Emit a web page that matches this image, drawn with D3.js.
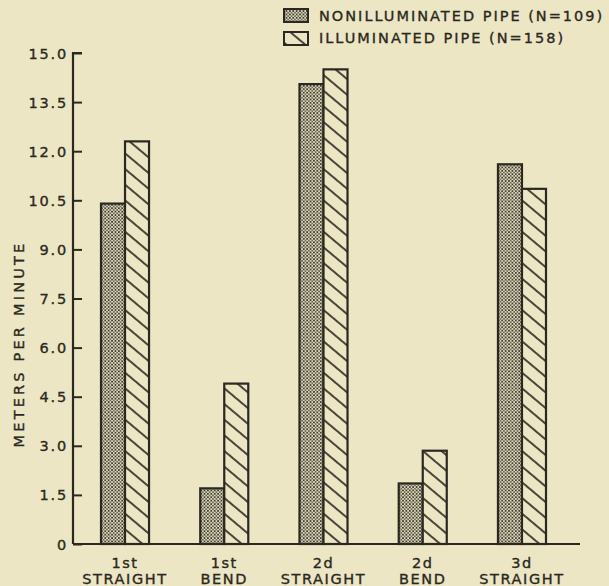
<!DOCTYPE html>
<html>
<head>
<meta charset="utf-8">
<script src="https://cdn.jsdelivr.net/npm/d3@7"></script>
<style>
  html, body { margin: 0; padding: 0; background: #ece6c5; }
  svg { display: block; }
  text { font-family: "DejaVu Sans", sans-serif; fill: #2a2820; stroke: #2a2820; stroke-width: 0.35; }
</style>
</head>
<body>
<svg id="chart" width="609" height="586"></svg>
<script>
// Data
const categories = ["1st STRAIGHT", "1st BEND", "2d STRAIGHT", "2d BEND", "3d STRAIGHT"];
const labelTop = ["1st", "1st", "2d", "2d", "3d"];
const labelBottom = ["STRAIGHT", "BEND", "STRAIGHT", "BEND", "STRAIGHT"];
const seriesNames = ["NONILLUMINATED PIPE (N=109)", "ILLUMINATED PIPE (N=158)"];
const nonIlluminated = [10.4, 1.7, 14.05, 1.85, 11.6];
const illuminated = [12.3, 4.9, 14.5, 2.85, 10.85];
const yTicks = [0, 1.5, 3, 4.5, 6, 7.5, 9, 10.5, 12, 13.5, 15];

const ink = '#2a2820';
const svg = d3.select('#chart');

// Patterns
const defs = svg.append('defs');
const dots = defs.append('pattern')
    .attr('id', 'stipple')
    .attr('patternUnits', 'userSpaceOnUse')
    .attr('width', 3.4).attr('height', 3.4);
dots.append('rect').attr('width', 3.4).attr('height', 3.4).attr('fill', '#ddd7b9');
dots.append('rect').attr('x', 0).attr('y', 0).attr('width', 1.7).attr('height', 1.7).attr('fill', '#3e3b31');
dots.append('rect').attr('x', 1.7).attr('y', 1.7).attr('width', 1.7).attr('height', 1.7).attr('fill', '#6e6a5a');

const hatch = defs.append('pattern')
    .attr('id', 'hatch')
    .attr('patternUnits', 'userSpaceOnUse')
    .attr('width', 12).attr('height', 12)
    .attr('patternTransform', 'rotate(40)');
hatch.append('rect').attr('width', 12).attr('height', 12).attr('fill', '#ece6c5');
hatch.append('line')
    .attr('x1', 0).attr('y1', 6).attr('x2', 12).attr('y2', 6)
    .attr('stroke', ink).attr('stroke-width', 1.7);

// Scales
const y = d3.scaleLinear().domain([0, 15]).range([544, 53]);
const x0 = d3.scaleBand().domain(categories).range([75.4, 571.6])
    .paddingInner(0.516).paddingOuter(0.258);
const x1 = d3.scaleBand().domain([0, 1]).range([0, x0.bandwidth()]);

// Axes
const axisX = 73;
const yAxis = svg.append('g').attr('transform', `translate(${axisX},0)`)
    .call(d3.axisRight(y).tickValues(yTicks).tickSize(9).tickFormat(() => ''));
yAxis.select('.domain').attr('stroke', ink).attr('stroke-width', 2.2)
    .attr('d', `M9,${y(15)}H0V${y(0)}`);
yAxis.selectAll('.tick line').attr('stroke', ink).attr('stroke-width', 2);

svg.append('g').selectAll('text')
    .data(yTicks)
    .enter()
    .append('text')
    .attr('x', 68)
    .attr('y', d => y(d) + 5.5)
    .attr('text-anchor', 'end')
    .attr('font-size', 14.5)
    .attr('letter-spacing', 1.8)
    .text(d => d === 0 ? '0' : d.toFixed(1));

// Baseline
svg.append('line')
    .attr('x1', axisX).attr('x2', 580)
    .attr('y1', y(0)).attr('y2', y(0))
    .attr('stroke', ink).attr('stroke-width', 2.2);

// Y title
svg.append('text')
    .attr('transform', `translate(24,${(240 + 448) / 2}) rotate(-90)`)
    .attr('text-anchor', 'middle')
    .attr('font-size', 14.5)
    .attr('letter-spacing', 3.2)
    .text('METERS PER MINUTE');

// Bars
const groups = svg.append('g').selectAll('g')
    .data(categories)
    .enter()
    .append('g')
    .attr('transform', d => `translate(${x0(d)},0)`);

groups.each(function(cat, i) {
    const vals = [nonIlluminated[i], illuminated[i]];
    d3.select(this).selectAll('rect')
        .data(vals)
        .enter()
        .append('rect')
        .attr('x', (d, j) => x1(j))
        .attr('y', d => y(d))
        .attr('width', x1.bandwidth())
        .attr('height', d => y(0) - y(d))
        .attr('fill', (d, j) => j === 0 ? 'url(#stipple)' : 'url(#hatch)')
        .attr('stroke', ink)
        .attr('stroke-width', 2.2);
});

// X labels
const xl = svg.append('g').selectAll('text')
    .data(categories)
    .enter()
    .append('text')
    .attr('text-anchor', 'middle')
    .attr('font-size', 14.5)
    .attr('letter-spacing', 1.6);
xl.append('tspan')
    .attr('x', d => x0(d) + x0.bandwidth() / 2)
    .attr('y', 568)
    .text((d, i) => labelTop[i]);
xl.append('tspan')
    .attr('x', d => x0(d) + x0.bandwidth() / 2)
    .attr('y', 584)
    .text((d, i) => labelBottom[i]);

// Legend
const legend = svg.append('g');
seriesNames.forEach((name, i) => {
    legend.append('rect')
        .attr('x', 284).attr('y', 9 + i * 23)
        .attr('width', 24).attr('height', 13)
        .attr('fill', i === 0 ? 'url(#stipple)' : 'url(#hatch)')
        .attr('stroke', ink).attr('stroke-width', 2);
    legend.append('text')
        .attr('x', 319).attr('y', 21 + i * 22)
        .attr('font-size', 14.5)
        .attr('letter-spacing', 2)
        .text(name);
});
</script>
</body>
</html>
